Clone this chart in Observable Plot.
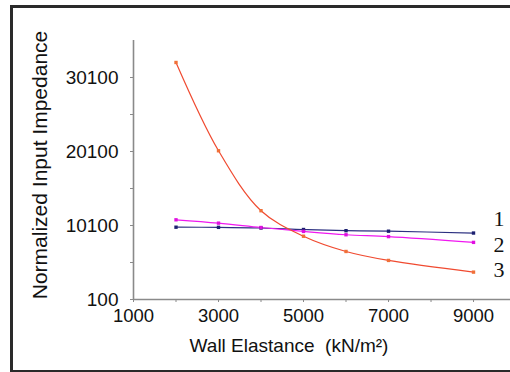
<!DOCTYPE html>
<html>
<head>
<meta charset="utf-8">
<script src="https://cdn.jsdelivr.net/npm/d3@7"></script>
<script src="https://cdn.jsdelivr.net/npm/@observablehq/plot@0.6"></script>
<style>
  html, body { margin: 0; padding: 0; background: #fff; }
  #wrap { position: relative; width: 510px; height: 372px; overflow: hidden; }
  #frame { position: absolute; left: 10px; top: 5px; width: 520px; height: 362px;
           border: 3px solid #2a2a2a; border-right: none; pointer-events: none; }
  #wrap svg { position: absolute; left: 0; top: 0; }
</style>
</head>
<body>
<div id="wrap"><div id="frame"></div></div>
<script>
// Wall elastance (kN/m^2)
const elastance = [2000, 3000, 4000, 5000, 6000, 7000, 9000];
// Normalized input impedance, curves 1, 2, 3
const series1 = [9870, 9850, 9760, 9560, 9400, 9330, 9080];
const series2 = [10870, 10420, 9830, 9300, 8850, 8600, 7820];
const series3 = [32130, 20200, 12100, 8650, 6590, 5380, 3800];
const seriesNames = ["1", "2", "3"];
const seriesColors = ["#2c3080", "#f018f0", "#f04a30"];
const markerColors = ["#1c2070", "#e010e0", "#f07038"];
const labelX = [9600, 9600, 9600];
const labelY = [11050, 7420, 4050];
const xTicks = [1000, 2000, 3000, 4000, 5000, 6000, 7000, 8000, 9000];
const xTickLabels = ["1000", "", "3000", "", "5000", "", "7000", "", "9000"];
const yTicks = [100, 5100, 10100, 15100, 20100, 25100, 30100];
const yTickLabels = ["100", "", "10100", "", "20100", "", "30100"];

const allSeries = [series1, series2, series3];
const rows = allSeries.flatMap((s, i) => s.map((v, j) => ({x: elastance[j], y: v, k: seriesNames[i]})));
const labels = seriesNames.map((n, i) => ({x: labelX[i], y: labelY[i], t: n}));

const font = "'Liberation Sans', Arial, sans-serif";
const colorScale = {domain: seriesNames, range: seriesColors};

const chart = Plot.plot({
  width: 510,
  height: 372,
  marginLeft: 133,
  marginRight: 0,
  marginTop: 40,
  marginBottom: 73,
  style: {fontFamily: font, background: "transparent", color: "#111"},
  x: {domain: [1000, 9870]},
  y: {domain: [100, 35100]},
  color: colorScale,
  marks: [
    Plot.ruleX([1000], {stroke: "#8a8a8a", strokeWidth: 1.6}),
    Plot.ruleY([100], {stroke: "#8a8a8a", strokeWidth: 1.6}),
    Plot.axisX({ticks: xTicks, tickFormat: (d, i) => xTickLabels[xTicks.indexOf(d)], tickSize: 3,
      tickPadding: 6, fontSize: 18.5, stroke: "#8a8a8a", label: null, fill: "#111"}),
    Plot.axisY({ticks: yTicks, tickFormat: d => yTickLabels[yTicks.indexOf(d)], tickSize: 3,
      tickPadding: 12, fontSize: 19, stroke: "#8a8a8a", label: null, fill: "#111"}),
    Plot.line(rows, {x: "x", y: "y", z: "k", stroke: "k", strokeWidth: 1.2, curve: "catmull-rom"}),
    Plot.dot(rows, {x: "x", y: "y", fill: d => markerColors[seriesNames.indexOf(d.k)], r: 1.9, symbol: "square"}),
    Plot.text(labels, {x: "x", y: "y", text: "t", fontFamily: "'Liberation Serif', 'Times New Roman', serif",
      fontSize: 22, textAnchor: "middle", fill: "#111"}),
    Plot.text(["Normalized Input Impedance"], {frameAnchor: "left", dx: -93, dy: -5, rotate: -90,
      fontSize: 21, fill: "#111", textAnchor: "middle"}),
    Plot.text(["Wall Elastance  (kN/m\u00B2)"], {frameAnchor: "bottom", dx: -33, dy: 52,
      fontSize: 19, fill: "#111", textAnchor: "middle"})
  ]
});
document.getElementById("wrap").prepend(chart);
</script>
</body>
</html>
